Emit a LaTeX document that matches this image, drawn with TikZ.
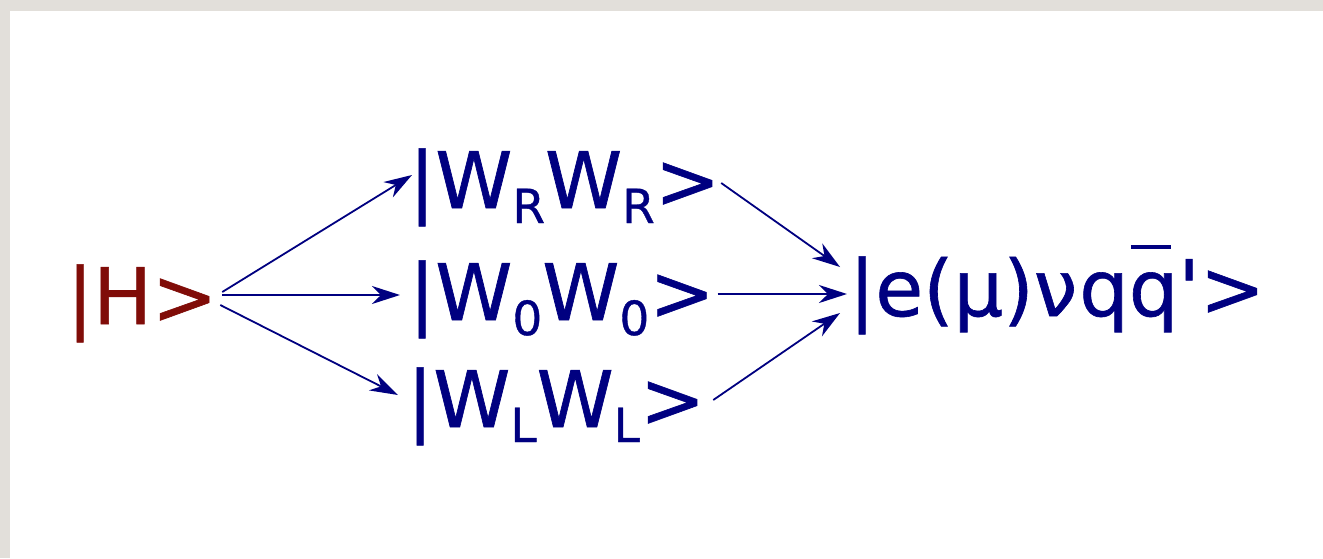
\documentclass[tikz,border=0pt]{standalone}
\usepackage{fontspec}
\usetikzlibrary{arrows.meta}
\newfontfamily\dv[Ligatures=TeXOff, FakeBold=0.8]{DejaVu Sans}
\definecolor{bggray}{RGB}{226,223,218}
\definecolor{navyc}{RGB}{0,0,128}
\definecolor{hred}{RGB}{128,12,8}
\newcommand{\sbx}[1]{\raisebox{-7.5pt}{\fontsize{23.5}{28}\selectfont #1}}
\newcommand{\qbar}{\rlap{\hspace{1pt}\raisebox{33.5pt}{\rule{20pt}{1.8pt}}}q}
\tikzset{
  lbl/.style={inner sep=0pt, outer sep=0pt, anchor=base west, text=navyc, font=\dv\fontsize{39}{46}\selectfont},
  arr/.style={draw=navyc, line width=0.9pt, -{Stealth[length=14pt, width=9pt, inset=4.5pt]}}
}
\begin{document}
\begin{tikzpicture}[x=0.5pt, y=-0.5pt]
\useasboundingbox (0,0) rectangle (1323,558);
\fill[bggray] (0,0) rectangle (1323,558);
\fill[white] (10,11) rectangle (1323,558);
\node[lbl, text=hred] (H) at (67,324) {|H>};
\node[lbl] (WR) at (409,208) {|W\sbx{R}W\sbx{R}>};
\node[lbl] (W0) at (409,320) {|W\sbx{0}W\sbx{0}>};
\node[lbl] (WL) at (407,427) {|W\sbx{L}W\sbx{L}>};
\node[lbl] (E) at (849,316) {|e(µ)ν\kern1pt q\qbar'>};
\draw[arr] ([shift={(5,-32)}]H.base east) -- ([shift={(3,-33)}]WR.base west);
\draw[arr] ([shift={(5,-29)}]H.base east) -- ([shift={(-9,-25)}]W0.base west);
\draw[arr] ([shift={(3,-19)}]H.base east) -- ([shift={(-9,-32)}]WL.base west);
\draw[arr] ([shift={(1,-25)}]WR.base east) -- ([shift={(-9,-49)}]E.base west);
\draw[arr] ([shift={(3,-26)}]W0.base east) -- ([shift={(-2,-22)}]E.base west);
\draw[arr] ([shift={(8,-27)}]WL.base east) -- ([shift={(-9,-3)}]E.base west);
\end{tikzpicture}
\end{document}
